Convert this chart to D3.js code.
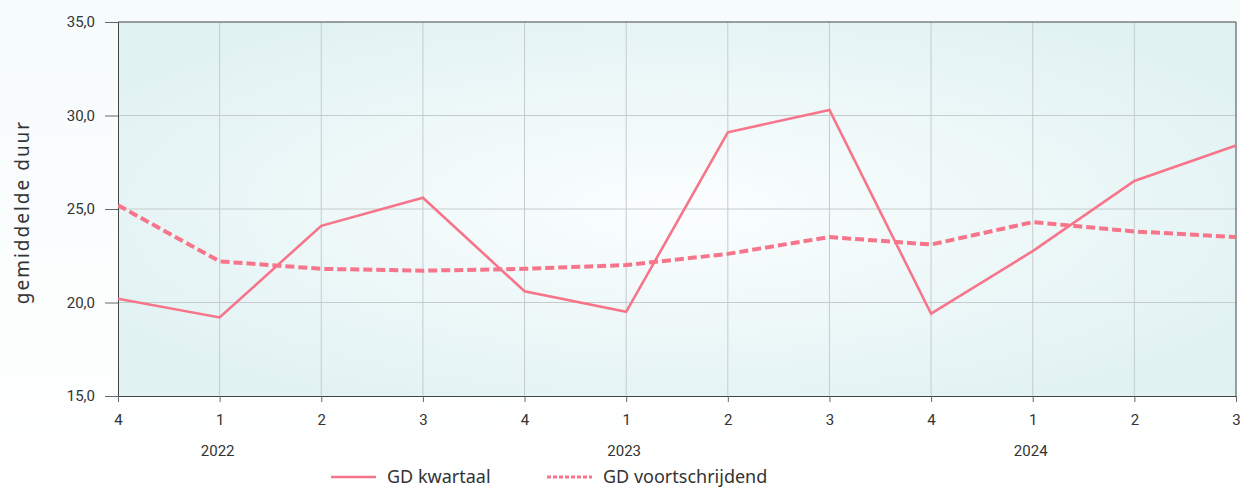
<!DOCTYPE html>
<html>
<head>
<meta charset="utf-8">
<script src="https://cdn.jsdelivr.net/npm/d3@7"></script>
<style>
  body { margin: 0; background: #ffffff; }
  text { font-family: Roboto, "Noto Sans", sans-serif; fill: #333; }
</style>
</head>
<body>
<div id="chart"></div>
<script>
// quarters and values
var quarters = ['4', '1', '2', '3', '4', '1', '2', '3', '4', '1', '2', '3'];
var years = [
	{ label: '2022', at: 1 },
	{ label: '2023', at: 5 },
	{ label: '2024', at: 9 }
];
var gd_kwartaal = [20.2, 19.2, 24.1, 25.6, 20.6, 19.5, 29.1, 30.3, 19.4, 22.75, 26.5, 28.4];
var gd_voortschrijdend = [25.2, 22.2, 21.8, 21.7, 21.8, 22.0, 22.6, 23.5, 23.1, 24.3, 23.8, 23.5];
var y_ticks = [15, 20, 25, 30, 35];

var chart_width = 1240;
var chart_height = 488;
var plot_left = 118, plot_right = 1236, plot_top = 22, plot_bottom = 396;
var line_color = '#f7758a';

var svg = d3.select('#chart')
	.append('svg')
	.attr('width', chart_width)
	.attr('height', chart_height);

var defs = svg.append('defs');
var pageGrad = defs.append('linearGradient')
	.attr('id', 'page-bg')
	.attr('x1', 0).attr('y1', 0).attr('x2', 0).attr('y2', 1);
pageGrad.append('stop').attr('offset', '0%').attr('stop-color', '#f6fbfc');
pageGrad.append('stop').attr('offset', '100%').attr('stop-color', '#ffffff');

var plotGrad = defs.append('radialGradient')
	.attr('id', 'plot-bg')
	.attr('cx', '0.5').attr('cy', '0.5').attr('r', '0.6');
plotGrad.append('stop').attr('offset', '0%').attr('stop-color', '#fbfefe');
plotGrad.append('stop').attr('offset', '100%').attr('stop-color', '#e1f2f3');

svg.append('rect')
	.attr('width', chart_width)
	.attr('height', chart_height)
	.attr('fill', 'url(#page-bg)');

// scales
var x_scale = d3.scaleLinear()
	.domain([0, quarters.length - 1])
	.range([plot_left, plot_right]);

var y_scale = d3.scaleLinear()
	.domain([15, 35])
	.range([plot_bottom, plot_top]);

// plot background
svg.append('rect')
	.attr('x', plot_left)
	.attr('y', plot_top)
	.attr('width', plot_right - plot_left)
	.attr('height', plot_bottom - plot_top)
	.attr('fill', 'url(#plot-bg)');

// grid
svg.append('g')
	.selectAll('line')
	.data(d3.range(1, quarters.length - 1))
	.enter()
	.append('line')
	.attr('x1', function(d){ return x_scale(d); })
	.attr('x2', function(d){ return x_scale(d); })
	.attr('y1', plot_top)
	.attr('y2', plot_bottom)
	.attr('stroke', '#c6cccc')
	.attr('stroke-width', 1);

svg.append('g')
	.selectAll('line')
	.data(y_ticks.slice(1, -1))
	.enter()
	.append('line')
	.attr('x1', plot_left)
	.attr('x2', plot_right)
	.attr('y1', function(d){ return y_scale(d); })
	.attr('y2', function(d){ return y_scale(d); })
	.attr('stroke', '#c6cccc')
	.attr('stroke-width', 1);

// axes
var y_axis = d3.axisLeft(y_scale)
	.tickValues(y_ticks)
	.tickSize(13)
	.tickPadding(10)
	.tickFormat(function(d){ return d3.format('.1f')(d).replace('.', ','); });

var y_g = svg.append('g')
	.attr('transform', 'translate(' + plot_left + ',0)')
	.call(y_axis);
y_g.select('.domain').attr('stroke', '#444');
y_g.selectAll('.tick line').attr('stroke', '#666');
y_g.selectAll('.tick text').attr('font-size', 15).attr('fill', '#333');

var x_axis = d3.axisBottom(x_scale)
	.tickValues(d3.range(quarters.length))
	.tickSize(6)
	.tickPadding(12)
	.tickFormat(function(d, i){ return quarters[i]; });

var x_g = svg.append('g')
	.attr('transform', 'translate(0,' + plot_bottom + ')')
	.call(x_axis);
x_g.select('.domain').attr('stroke', '#444');
x_g.selectAll('.tick line').attr('stroke', '#666');
x_g.selectAll('.tick text').attr('font-size', 15).attr('fill', '#333');

// top & right border
svg.append('line')
	.attr('x1', plot_left).attr('x2', plot_right)
	.attr('y1', plot_top).attr('y2', plot_top)
	.attr('stroke', '#444');
svg.append('line')
	.attr('x1', plot_right).attr('x2', plot_right)
	.attr('y1', plot_top).attr('y2', plot_bottom)
	.attr('stroke', '#444');

// year labels
svg.selectAll('.year')
	.data(years)
	.enter()
	.append('text')
	.attr('class', 'year')
	.attr('x', function(d){ return x_scale(d.at) - 2; })
	.attr('y', 456)
	.attr('text-anchor', 'middle')
	.attr('font-size', 15)
	.text(function(d){ return d.label; });

// y title
svg.append('text')
	.attr('transform', 'translate(29,' + 212 + ') rotate(-90)')
	.attr('text-anchor', 'middle')
	.attr('font-size', 19)
	.attr('letter-spacing', 2)
	.style('font-family', '"Noto Sans", sans-serif')
	.text('gemiddelde duur');

// lines
var line = d3.line()
	.x(function(d, i){ return x_scale(i); })
	.y(function(d){ return y_scale(d); });

var clip = defs.append('clipPath').attr('id', 'plot-clip');
clip.append('rect')
	.attr('x', plot_left).attr('y', plot_top)
	.attr('width', plot_right - plot_left + 3).attr('height', plot_bottom - plot_top);

svg.append('path')
	.datum(gd_voortschrijdend)
	.attr('d', line)
	.attr('fill', 'none')
	.attr('clip-path', 'url(#plot-clip)')
	.attr('stroke', line_color)
	.attr('stroke-width', 4)
	.attr('stroke-dasharray', '9,4');

svg.append('path')
	.datum(gd_kwartaal)
	.attr('d', line)
	.attr('fill', 'none')
	.attr('clip-path', 'url(#plot-clip)')
	.attr('stroke', line_color)
	.attr('stroke-width', 2.6)
	.attr('stroke-linejoin', 'miter');

// legend
var legend = [
	{ label: 'GD kwartaal', x: 331, dash: null, w: 2.6 },
	{ label: 'GD voortschrijdend', x: 547, dash: '4,2', w: 3.2 }
];
var lg = svg.selectAll('.legend')
	.data(legend)
	.enter()
	.append('g')
	.attr('class', 'legend')
	.attr('transform', function(d){ return 'translate(' + d.x + ',477)'; });
lg.append('line')
	.attr('x1', 0).attr('x2', 45)
	.attr('y1', 0).attr('y2', 0)
	.attr('stroke', line_color)
	.attr('stroke-width', function(d){ return d.w; })
	.attr('stroke-dasharray', function(d){ return d.dash; });
lg.append('text')
	.attr('x', 56)
	.attr('y', 6)
	.attr('font-size', 18)
	.style('font-family', '"Noto Sans", sans-serif')
	.text(function(d){ return d.label; });
</script>
</body>
</html>
